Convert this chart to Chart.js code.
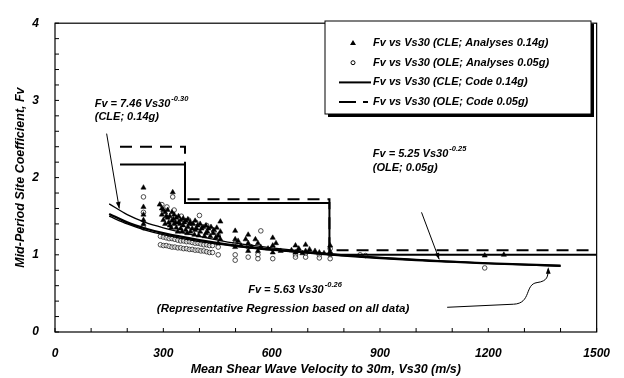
<!DOCTYPE html>
<html>
<head>
<meta charset="utf-8">
<script src="https://cdn.jsdelivr.net/npm/chart.js@4/dist/chart.umd.min.js"></script>
<style>
  html, body { margin: 0; padding: 0; background: #fff; }
  #wrap { width: 624px; height: 378px; }
</style>
</head>
<body>
<div id="wrap"><canvas id="fvChart" width="624" height="378"></canvas></div>
<script>
// code step lines (Vs30 breakpoints)
const codeVs = [180, 360, 360, 760, 760, 1500];
const cleCode = [2.17, 2.17, 1.67, 1.67, 1.0, 1.0];
const oleCode = [2.4, 2.4, 1.72, 1.72, 1.06, 1.06];

// regression curves
const regVs = [150, 200, 250, 300, 400, 500, 600, 800, 1000, 1200, 1400];
const cleReg = [1.66, 1.52, 1.42, 1.35, 1.24, 1.15, 1.09, 1.00, 0.94, 0.89, 0.85];
const oleReg = [1.50, 1.40, 1.32, 1.26, 1.17, 1.11, 1.06, 0.99, 0.93, 0.89, 0.86];
const allReg = [1.53, 1.42, 1.34, 1.28, 1.19, 1.12, 1.07, 0.99, 0.93, 0.89, 0.86];

// CLE analyses (triangles)
const cleVs = [245, 245, 245, 245, 245, 326,
  296, 296, 300, 305, 305, 312, 312, 318, 318, 324, 324, 330, 330, 336, 336,
  342, 342, 348, 348, 355, 355, 362, 362, 368, 368, 375, 375, 382, 388, 388,
  395, 402, 402, 410, 418, 418, 425, 432, 440, 448, 458, 458, 458,
  290, 300, 308, 315, 322, 328, 334, 340, 346, 352, 358, 366, 372, 380, 386,
  392, 398, 406, 414, 422, 430, 438, 445, 452, 452,
  499, 499, 499, 507, 515, 528, 535, 535, 535, 545, 555, 562, 562, 570, 590,
  603, 603, 603, 612, 625, 655, 666, 666, 675, 685, 694, 694, 705, 720,
  732, 745, 762, 762, 1190, 1243];
const cleFv = [1.87, 1.62, 1.52, 1.45, 1.40, 1.81,
  1.60, 1.52, 1.45, 1.55, 1.40, 1.58, 1.48, 1.50, 1.38, 1.55, 1.44, 1.52, 1.40, 1.48, 1.35,
  1.50, 1.42, 1.45, 1.34, 1.47, 1.38, 1.44, 1.32, 1.46, 1.36, 1.42, 1.30, 1.40, 1.44, 1.32,
  1.38, 1.40, 1.30, 1.36, 1.38, 1.28, 1.34, 1.36, 1.32, 1.35, 1.43, 1.30, 1.20,
  1.65, 1.58, 1.50, 1.42, 1.35, 1.46, 1.42, 1.30, 1.40, 1.30, 1.42, 1.28, 1.40, 1.34, 1.26,
  1.34, 1.25, 1.34, 1.24, 1.30, 1.24, 1.28, 1.22, 1.25, 1.15,
  1.31, 1.20, 1.10, 1.18, 1.12, 1.20, 1.26, 1.15, 1.05, 1.10, 1.20, 1.15, 1.05, 1.10, 1.08,
  1.22, 1.12, 1.03, 1.15, 1.05, 1.06, 1.12, 1.03, 1.08, 1.02, 1.13, 1.05, 1.07, 1.05,
  1.03, 1.02, 1.12, 1.04, 0.99, 1.00];

// OLE analyses (open circles)
const oleVs = [245, 245, 245, 326, 400, 570,
  296, 310, 330, 350, 370, 390, 420, 440,
  292, 292, 300, 300, 308, 308, 316, 316, 324, 324, 332, 332, 340, 340,
  348, 348, 356, 356, 364, 364, 372, 372, 380, 380, 388, 388, 396, 396,
  404, 404, 412, 412, 420, 420, 428, 428, 436, 436,
  452, 452, 452, 499, 499, 499, 535, 535, 562, 562, 603, 603, 666, 666,
  694, 694, 732, 732, 762, 762, 762, 845, 860, 1190];
const oleFv = [1.75, 1.55, 1.35, 1.75, 1.51, 1.31,
  1.65, 1.62, 1.58, 1.50, 1.45, 1.42, 1.38, 1.30,
  1.24, 1.13, 1.23, 1.12, 1.22, 1.12, 1.21, 1.11, 1.21, 1.10, 1.20, 1.10, 1.19, 1.09,
  1.18, 1.09, 1.18, 1.08, 1.17, 1.08, 1.17, 1.07, 1.16, 1.07, 1.15, 1.06, 1.15, 1.06,
  1.14, 1.05, 1.13, 1.05, 1.13, 1.04, 1.12, 1.03, 1.12, 1.03,
  1.25, 1.10, 1.00, 1.15, 1.00, 0.93, 1.10, 0.97, 1.00, 0.95, 1.08, 0.95, 1.00, 0.97,
  1.02, 0.97, 1.00, 0.96, 1.08, 1.00, 0.95, 1.00, 0.99, 0.83];

const pts = (xs, ys) => xs.map((x, i) => ({ x: x, y: ys[i] }));
const FONT = '"Liberation Sans", Arial, sans-serif';

function arrowHead(ctx, x0, y0, x1, y1) {
  const a = Math.atan2(y1 - y0, x1 - x0);
  ctx.beginPath();
  ctx.moveTo(x1, y1);
  ctx.lineTo(x1 - 7 * Math.cos(a - 0.35), y1 - 7 * Math.sin(a - 0.35));
  ctx.lineTo(x1 - 7 * Math.cos(a + 0.35), y1 - 7 * Math.sin(a + 0.35));
  ctx.closePath();
  ctx.fill();
}

function eqText(ctx, x, y, main, sup) {
  ctx.font = 'italic bold 11px ' + FONT;
  ctx.fillText(main, x, y);
  const w = ctx.measureText(main).width;
  ctx.font = 'italic bold 7.5px ' + FONT;
  ctx.fillText(sup, x + w + 1, y - 5);
}

const decor = {
  id: 'decor',
  afterDraw(chart) {
    const ctx = chart.ctx;
    const xs = chart.scales.x, ys = chart.scales.y;
    const X = v => xs.getPixelForValue(v), Y = v => ys.getPixelForValue(v);
    const ca = chart.chartArea;
    ctx.save();
    ctx.strokeStyle = '#000';
    ctx.fillStyle = '#000';

    // frame
    ctx.lineWidth = 1.2;
    ctx.strokeRect(ca.left, ca.top, ca.right - ca.left, ca.bottom - ca.top);

    // inward ticks
    ctx.lineWidth = 1;
    ctx.beginPath();
    ys.ticks.forEach(t => {
      const py = Y(t.value);
      ctx.moveTo(ca.left, py); ctx.lineTo(ca.left + 4, py);
    });
    xs.ticks.forEach(t => {
      const px = X(t.value);
      ctx.moveTo(px, ca.bottom); ctx.lineTo(px, ca.bottom - 4);
    });
    ctx.stroke();

    // axis titles
    ctx.font = 'italic bold 12.5px ' + FONT;
    ctx.textAlign = 'center';
    ctx.textBaseline = 'middle';
    ctx.fillText('Mean Shear Wave Velocity to 30m, Vs30 (m/s)', (ca.left + ca.right) / 2, 370);
    ctx.save();
    ctx.translate(21, (ca.top + ca.bottom) / 2);
    ctx.rotate(-Math.PI / 2);
    ctx.fillText('Mid-Period Site Coefficient, Fv', 0, 0);
    ctx.restore();

    // annotations
    ctx.textAlign = 'left';
    ctx.textBaseline = 'middle';
    eqText(ctx, X(110), Y(2.96), 'Fv = 7.46 Vs30', '-0.30');
    ctx.font = 'italic bold 11px ' + FONT;
    ctx.fillText('(CLE; 0.14g)', X(110), Y(2.79));

    eqText(ctx, X(880), Y(2.31), 'Fv = 5.25 Vs30', '-0.25');
    ctx.font = 'italic bold 11px ' + FONT;
    ctx.fillText('(OLE; 0.05g)', X(880), Y(2.12));

    eqText(ctx, X(535), Y(0.55), 'Fv = 5.63 Vs30', '-0.26');
    ctx.font = 'italic bold 11.5px ' + FONT;
    ctx.fillText('(Representative Regression based on all data)', X(282), Y(0.30));

    ctx.lineWidth = 1;
    ctx.beginPath();
    ctx.moveTo(X(143), Y(2.57)); ctx.lineTo(X(178), Y(1.60));
    ctx.stroke();
    arrowHead(ctx, X(143), Y(2.57), X(178), Y(1.60));

    ctx.beginPath();
    ctx.moveTo(X(1015), Y(1.55)); ctx.lineTo(X(1064), Y(0.94));
    ctx.stroke();
    arrowHead(ctx, X(1015), Y(1.55), X(1064), Y(0.94));

    ctx.beginPath();
    ctx.moveTo(X(1086), Y(0.32));
    ctx.lineTo(X(1270), Y(0.36));
    ctx.bezierCurveTo(X(1320), Y(0.37), X(1300), Y(0.62), X(1335), Y(0.64));
    ctx.bezierCurveTo(X(1365), Y(0.66), X(1365), Y(0.72), X(1366), Y(0.82));
    ctx.stroke();
    arrowHead(ctx, X(1366), Y(0.70), X(1366), Y(0.84));

    // legend box with shadow
    const lx = 325, ly = 21, lw = 266, lh = 93;
    ctx.fillRect(lx + 3, ly + 3, lw, lh);
    ctx.fillStyle = '#fff';
    ctx.fillRect(lx, ly, lw, lh);
    ctx.lineWidth = 1;
    ctx.strokeRect(lx, ly, lw, lh);
    ctx.fillStyle = '#000';
    const rows = [
      ['tri', 'Fv vs Vs30 (CLE; Analyses 0.14g)'],
      ['circ', 'Fv vs Vs30 (OLE; Analyses 0.05g)'],
      ['solid', 'Fv vs Vs30 (CLE; Code 0.14g)'],
      ['dash', 'Fv vs Vs30 (OLE; Code 0.05g)']
    ];
    ctx.font = 'italic bold 11px ' + FONT;
    rows.forEach((r, i) => {
      const ry = 43 + i * 19.7;
      ctx.fillText(r[1], 373, ry);
      ctx.beginPath();
      if (r[0] === 'tri') {
        ctx.moveTo(353, ry - 3); ctx.lineTo(356, ry + 2); ctx.lineTo(350, ry + 2); ctx.closePath(); ctx.fill();
      } else if (r[0] === 'circ') {
        ctx.arc(353, ry, 2, 0, Math.PI * 2); ctx.stroke();
      } else if (r[0] === 'solid') {
        ctx.lineWidth = 2; ctx.moveTo(339, ry); ctx.lineTo(371, ry); ctx.stroke();
      } else {
        ctx.lineWidth = 2; ctx.moveTo(339, ry); ctx.lineTo(356, ry); ctx.moveTo(363, ry); ctx.lineTo(368, ry); ctx.stroke();
      }
      ctx.lineWidth = 1;
    });
    ctx.restore();
  }
};

new Chart(document.getElementById('fvChart'), {
  type: 'scatter',
  data: {
    datasets: [
      {
        label: 'Fv vs Vs30 (CLE; Code 0.14g)',
        type: 'line',
        data: pts(codeVs, cleCode),
        borderColor: '#000', borderWidth: 2, pointRadius: 0, fill: false, tension: 0
      },
      {
        label: 'Fv vs Vs30 (OLE; Code 0.05g)',
        type: 'line',
        data: pts(codeVs, oleCode),
        borderColor: '#000', borderWidth: 2, borderDash: [12, 8], pointRadius: 0, fill: false, tension: 0
      },
      {
        label: 'CLE regression',
        type: 'line',
        data: pts(regVs, cleReg),
        borderColor: '#000', borderWidth: 1.3, pointRadius: 0, fill: false, cubicInterpolationMode: 'monotone'
      },
      {
        label: 'OLE regression',
        type: 'line',
        data: pts(regVs, oleReg),
        borderColor: '#000', borderWidth: 1.3, pointRadius: 0, fill: false, cubicInterpolationMode: 'monotone'
      },
      {
        label: 'All data regression',
        type: 'line',
        data: pts(regVs, allReg),
        borderColor: '#000', borderWidth: 2.2, pointRadius: 0, fill: false, cubicInterpolationMode: 'monotone'
      },
      {
        label: 'Fv vs Vs30 (CLE; Analyses 0.14g)',
        data: pts(cleVs, cleFv),
        pointStyle: 'triangle', pointRadius: 3,
        backgroundColor: '#000', borderColor: '#000', borderWidth: 0.5
      },
      {
        label: 'Fv vs Vs30 (OLE; Analyses 0.05g)',
        data: pts(oleVs, oleFv),
        pointStyle: 'circle', pointRadius: 2.3,
        backgroundColor: 'rgba(255,255,255,0.5)', borderColor: '#222', borderWidth: 0.8
      }
    ]
  },
  options: {
    responsive: false,
    animation: false,
    layout: { padding: { top: 14, right: 22, left: 0, bottom: 0 } },
    plugins: { legend: { display: false }, tooltip: { enabled: false } },
    scales: {
      x: {
        type: 'linear', min: 0, max: 1500,
        afterFit: s => { s.height = 46; },
        grid: { display: false, drawTicks: false },
        border: { display: false },
        ticks: {
          stepSize: 100, autoSkip: false, maxRotation: 0, padding: 14,
          color: '#000', font: { family: FONT, size: 12, style: 'italic', weight: 'bold' },
          callback: v => (v % 300 === 0 ? v : '')
        }
      },
      y: {
        type: 'linear', min: 0, max: 4,
        afterFit: s => { s.width = 55; },
        grid: { display: false, drawTicks: false },
        border: { display: false },
        ticks: {
          stepSize: 0.2, autoSkip: false, padding: 16,
          color: '#000', font: { family: FONT, size: 12, style: 'italic', weight: 'bold' },
          callback: v => (Math.abs(v - Math.round(v)) < 1e-6 ? Math.round(v) : '')
        }
      }
    }
  },
  plugins: [decor]
});
</script>
</body>
</html>
